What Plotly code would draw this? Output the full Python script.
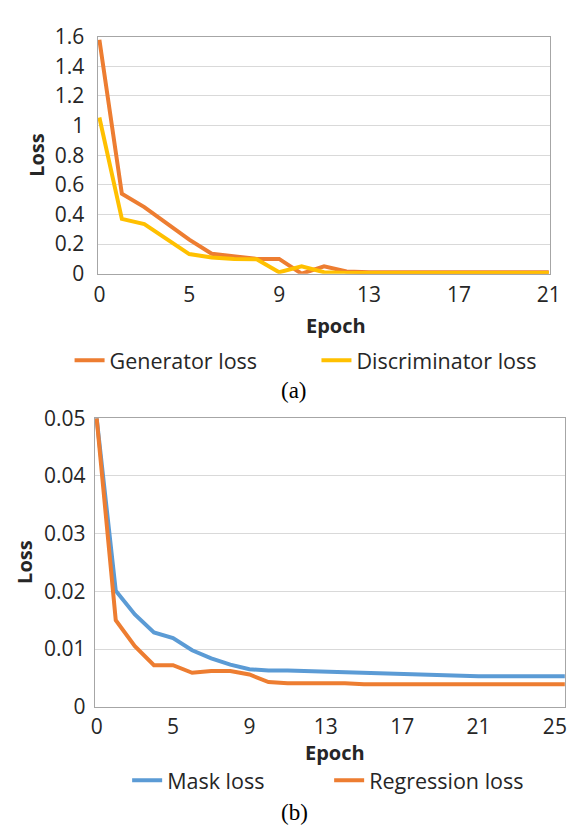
import plotly.graph_objects as go

W, H = 579, 830

# ---- data (a) ----
epoch_idx_a = list(range(21))
tick_pos_a = [0, 4, 8, 12, 16, 20]
tick_lbl_a = ["0", "5", "9", "13", "17", "21"]
gen_loss = [1.58, 0.54, 0.45, 0.34, 0.23, 0.135, 0.115, 0.10, 0.10, 0.0, 0.05,
            0.015, 0.01, 0.01, 0.01, 0.01, 0.01, 0.01, 0.01, 0.01, 0.01]
disc_loss = [1.055, 0.37, 0.335, 0.235, 0.133, 0.11, 0.10, 0.098, 0.01, 0.05, 0.01,
             0.005, 0.005, 0.005, 0.005, 0.005, 0.005, 0.005, 0.005, 0.005, 0.005]

# ---- data (b) ----
epoch_idx_b = list(range(26))
tick_pos_b = [0, 4, 8, 12, 16, 20, 24]
tick_lbl_b = ["0", "5", "9", "13", "17", "21", "25"]
mask_loss = [0.05, 0.0201, 0.016, 0.0129, 0.0119, 0.0098, 0.0084, 0.0073, 0.0065,
             0.0063, 0.0063, 0.0062, 0.006, 0.006, 0.0058, 0.0058, 0.0056, 0.0056,
             0.0054, 0.0054, 0.0053, 0.0053, 0.0053, 0.0053, 0.0053, 0.0053]
reg_loss = [0.05, 0.015, 0.0105, 0.0072, 0.0072, 0.0059, 0.0062, 0.0062, 0.0056,
            0.0043, 0.0041, 0.0041, 0.0041, 0.0041, 0.0039, 0.0039, 0.0039, 0.0039,
            0.0039, 0.0039, 0.0039, 0.0039, 0.0039, 0.0039, 0.0039, 0.0039]

ORANGE = "#ED7D31"
YELLOW = "#FFC000"
BLUE = "#5B9BD5"
TXT = "#262626"
FONT = "Open Sans"


def px(x):
    return x / W


def py(y):
    return 1 - y / H


fig = go.Figure()
lw = 4
fig.add_trace(go.Scatter(x=epoch_idx_a, y=gen_loss, mode="lines", name="Generator loss",
                         line=dict(color=ORANGE, width=lw), xaxis="x", yaxis="y", legend="legend"))
fig.add_trace(go.Scatter(x=epoch_idx_a, y=disc_loss, mode="lines", name="Discriminator loss",
                         line=dict(color=YELLOW, width=lw), xaxis="x", yaxis="y", legend="legend2"))
fig.add_trace(go.Scatter(x=epoch_idx_b, y=mask_loss, mode="lines", name="Mask loss",
                         line=dict(color=BLUE, width=lw), xaxis="x2", yaxis="y2", legend="legend3"))
fig.add_trace(go.Scatter(x=epoch_idx_b, y=reg_loss, mode="lines", name="Regression loss",
                         line=dict(color=ORANGE, width=lw), xaxis="x2", yaxis="y2", legend="legend4"))

axis_common = dict(showline=True, mirror=True, linecolor="#A6A6A6", linewidth=1.3,
                   zeroline=False, ticks="", tickfont=dict(family=FONT, size=21, color=TXT))

fig.update_layout(
    width=W, height=H, autosize=False,
    margin=dict(l=0, r=0, t=0, b=0),
    paper_bgcolor="white", plot_bgcolor="white",
    xaxis=dict(domain=[px(87.7), px(551.7)], range=[-0.08, 20.07], anchor="y",
               tickmode="array", tickvals=tick_pos_a, ticktext=tick_lbl_a,
               showgrid=False, ticklabelstandoff=2, **axis_common),
    yaxis=dict(domain=[py(259.5), py(14.2)], range=[0, 1.6], anchor="x",
               dtick=0.2, showgrid=True, gridcolor="#D9D9D9", gridwidth=1.3,
               ticklabelstandoff=8, **axis_common),
    xaxis2=dict(domain=[px(85), px(566.5)], range=[-0.09, 24.52], anchor="y2",
                tickmode="array", tickvals=tick_pos_b, ticktext=tick_lbl_b,
                showgrid=False, ticklabelstandoff=1, **axis_common),
    yaxis2=dict(domain=[py(707.7), py(409)], range=[0, 0.05], anchor="x2",
                dtick=0.01, showgrid=True, gridcolor="#D9D9D9", gridwidth=1.3,
                ticklabelstandoff=4, **axis_common),
    showlegend=True,
)

leg_common = dict(orientation="h", xanchor="left", yanchor="middle", borderwidth=0,
                  bgcolor="rgba(0,0,0,0)", font=dict(family=FONT, size=21.5, color=TXT),
                  itemclick=False, itemdoubleclick=False)
fig.update_layout(
    legend=dict(x=px(59), y=py(349), **leg_common),
    legend2=dict(x=px(312), y=py(349), **leg_common),
    legend3=dict(x=px(118), y=py(783.7), **leg_common),
    legend4=dict(x=px(325), y=py(783.7), **leg_common),
)


def label(text, x, y, size=20, family=FONT, color=TXT, angle=0):
    return dict(text=text, x=px(x), y=py(y), textangle=angle, showarrow=False,
                xref="paper", yref="paper", xanchor="center", yanchor="middle",
                font=dict(family=family, size=size, color=color))


ann = [
    label("<b>Loss</b>", 25, 136, angle=-90),
    label("<b>Loss</b>", 12, 558, angle=-90),
    label("<b>Epoch</b>", 332.5, 313),
    label("<b>Epoch</b>", 331, 755),
    label("(a)", 289, 380, size=23, family="Liberation Serif", color="black"),
    label("(b)", 289, 816.7, size=23, family="Liberation Serif", color="black"),
]
fig.update_layout(annotations=ann)

fig.write_html("out.html")
